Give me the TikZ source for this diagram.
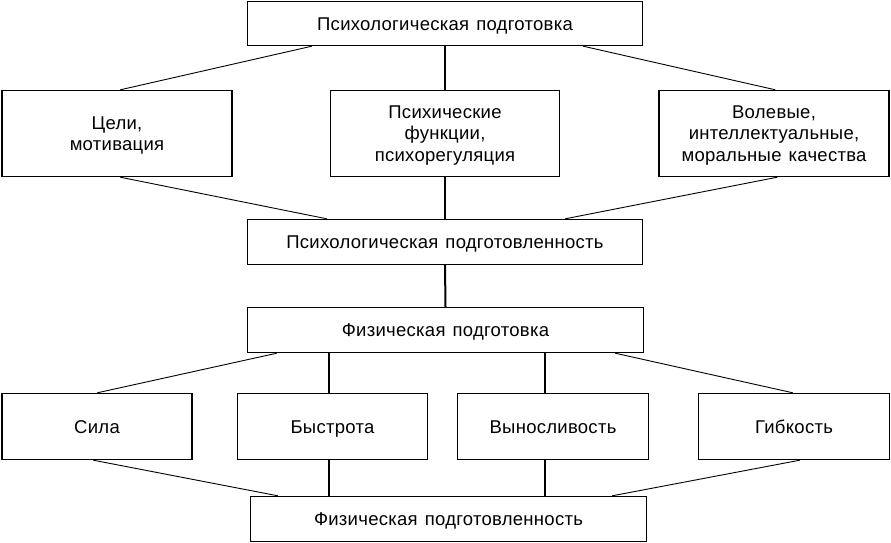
\documentclass[tikz,border=0pt]{standalone}
\usepackage{fontspec}
\setmainfont{Liberation Sans}[LetterSpace=1.5,WordSpace=1.3]
\usetikzlibrary{calc}
\begin{document}
\begin{tikzpicture}[x=1pt,y=-1pt,
  box/.style={draw,line width=1.4pt,rectangle,inner sep=0pt,align=center,
    font=\fontsize{18.5}{21.7}\selectfont, text depth=0pt},
  ml/.style={text depth=-4pt},
  sl/.style={text height=13.3pt},
  thin/.style={line width=0.9pt},
  thick/.style={line width=2pt},
  mid/.style={line width=1.4pt}]
\fill[white] (0,0) rectangle (891,543);
\useasboundingbox (0,0) rectangle (891,543);
\node[box,sl,minimum width=395pt,minimum height=44pt] (top) at (445,23.5) {Психологическая подготовка};
\node[box,ml,minimum width=230pt,minimum height=86pt] (goals) at (117,133.5) {Цели,\\мотивация};
\node[box,ml,minimum width=229pt,minimum height=86pt] (func) at (445,133.5) {Психические\\функции,\\психорегуляция};
\node[box,ml,minimum width=230pt,minimum height=86pt] (vol) at (774,133.5) {Волевые,\\интеллектуальные,\\моральные качества};
\node[box,sl,minimum width=395pt,minimum height=45pt] (pready) at (445,242) {Психологическая подготовленность};
\node[box,sl,minimum width=396pt,minimum height=45pt] (phys) at (445.5,330) {Физическая подготовка};
\node[box,sl,minimum width=190pt,minimum height=66pt] (sila) at (97,426.5) {Сила};
\node[box,sl,minimum width=190pt,minimum height=66pt] (bys) at (332.5,426.5) {Быстрота};
\node[box,sl,minimum width=191pt,minimum height=66pt] (vyn) at (553,426.5) {Выносливость};
\node[box,sl,minimum width=191pt,minimum height=66pt] (gib) at (794,426.5) {Гибкость};
\node[box,sl,minimum width=396pt,minimum height=45pt] (fready) at (448.5,519) {Физическая подготовленность};
% upper part
\draw[thin] ([xshift=65pt]top.south west) -- ([xshift=119pt]goals.north west);
\draw[thin] ([xshift=-60pt]top.south east) -- ([xshift=117pt]vol.north west);
\draw[thick] (top.south) -- (func.north);
\draw[thick] (func.south) -- (pready.north);
\draw[thin] ([xshift=119pt]goals.south west) -- ([xshift=80pt]pready.north west);
\draw[thin] ([xshift=119pt]vol.south west) -- ([xshift=-78pt]pready.north east);
\draw[thick] (pready.south) -- (phys.north);
% lower part
\coordinate (b1) at ([xshift=-3.5pt]bys.north);
\coordinate (b2) at ([xshift=-3.5pt]bys.south);
\coordinate (v1) at ([xshift=-8pt]vyn.north);
\coordinate (v2) at ([xshift=-8pt]vyn.south);
\draw[mid] (b1) -- (b1 |- phys.south);
\draw[mid] (b2) -- (b2 |- fready.north);
\draw[mid] (v1) -- (v1 |- phys.south);
\draw[mid] (v2) -- (v2 |- fready.north);
\draw[thin] ([xshift=30pt]phys.south west) -- ([xshift=96pt]sila.north west);
\draw[thin] ([xshift=-29pt]phys.south east) -- ([xshift=95pt]gib.north west);
\draw[thin] ([xshift=92pt]sila.south west) -- ([xshift=28pt]fready.north west);
\draw[thin] ([xshift=102pt]gib.south west) -- ([xshift=-35pt]fready.north east);
\end{tikzpicture}
\end{document}
